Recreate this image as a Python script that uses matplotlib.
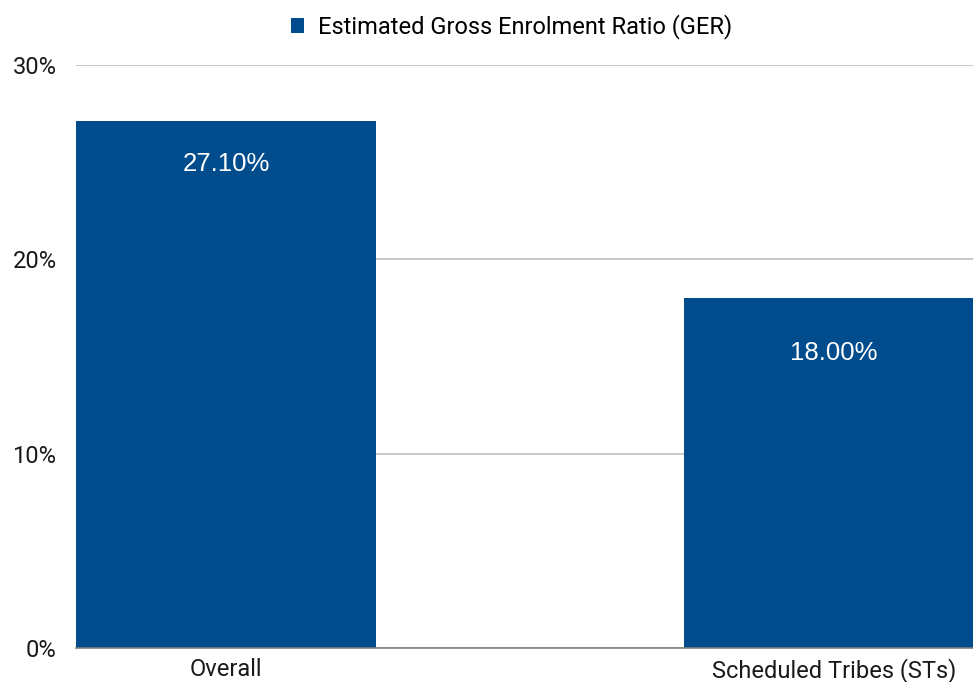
import matplotlib.pyplot as plt
from matplotlib.ticker import FuncFormatter

# data
categories = ['Overall', 'Scheduled Tribes (STs)']
ger_values = [27.10, 18.00]
series_name = 'Estimated Gross Enrolment Ratio (GER)'
y_ticks = [0, 10, 20, 30]

plt.rcParams['font.family'] = ['Roboto', 'DejaVu Sans']
bar_color = '#004C8C'

fig = plt.figure(figsize=(9.73, 6.82), dpi=100)
ax = fig.add_axes([76 / 973, 1 - 648 / 682, 1 - 76 / 973, (648 - 65) / 682])

x = list(range(len(categories)))
bars = ax.bar(x, ger_values, width=0.4934, color=bar_color, label=series_name, zorder=3)

# labels sit a bit lower in the shorter bar, as in the source
label_drop = [31, 39.5]  # points below bar top
for b, v, d in zip(bars, ger_values, label_drop):
    ax.annotate(f'{v:.2f}%', (b.get_x() + b.get_width() / 2, v),
                xytext=(0, -d), textcoords='offset points',
                ha='center', va='center', color='white', fontsize=18.5,
                family=['Liberation Sans', 'DejaVu Sans'], zorder=4)

ax.set_xlim(-0.2467, 1.2286)
ax.set_ylim(0, 30)
ax.set_yticks(y_ticks)
ax.yaxis.set_major_formatter(FuncFormatter(lambda v, p: f'{v:.0f}%'))
ax.set_xticks(x)
ax.set_xticklabels(categories)
ax.tick_params(axis='both', length=0, labelsize=17, colors='#1a1a1a')
ax.tick_params(axis='y', pad=14)
ax.tick_params(axis='x', pad=7)

ax.grid(axis='y', color='#BFBFBF', linewidth=1.2, zorder=0)
ax.set_axisbelow(True)
for s in ['top', 'right', 'left']:
    ax.spines[s].set_visible(False)
ax.spines['bottom'].set_color('#7f7f7f')
ax.spines['bottom'].set_linewidth(1.2)
ax.spines['bottom'].set_zorder(5)

fig.legend(loc='center', bbox_to_anchor=(512 / 973, 1 - 27 / 682), frameon=False,
           fontsize=17, handlelength=0.55, handleheight=0.55, handletextpad=0.6)

fig.savefig('out.png', dpi=100)
